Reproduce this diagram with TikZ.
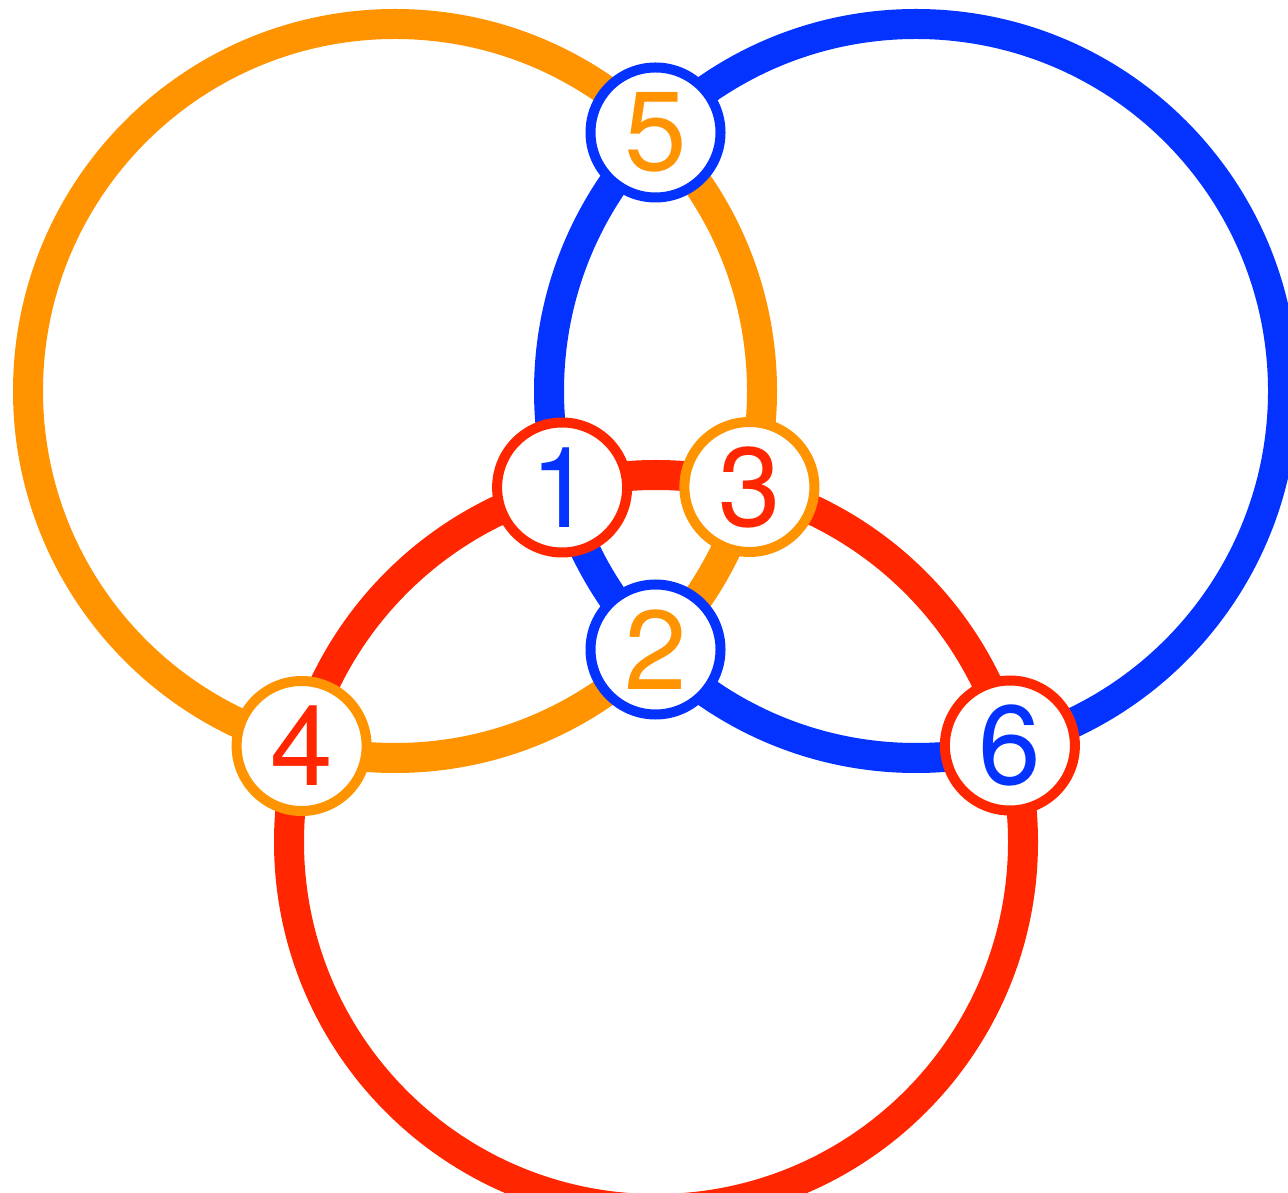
\documentclass[tikz,border=0pt]{standalone}
\usepackage{fontspec}
\setmainfont{TeX Gyre Heros}
\usepackage{xcolor}
\usepackage{tikz}
\usetikzlibrary{positioning}
\definecolor{crorange}{HTML}{FF9300}
\definecolor{crblue}{HTML}{0433FF}
\definecolor{crred}{HTML}{FF2600}
\tikzset{
  ringline/.style={line width=3mm},
  ptnode/.style={circle,fill=white,line width=1mm,minimum size=13mm,inner sep=0pt,
    font=\fontsize{32}{38}\selectfont},
  ptorange/.style={ptnode,draw=crorange},
  ptblue/.style={ptnode,draw=crblue},
  ptred/.style={ptnode,draw=crred},
}

\begin{document}
\begin{tikzpicture}
  \useasboundingbox (0,0) rectangle (12.88,11.92);
  \clip (0,0) rectangle (12.88,11.92);
  \coordinate (cO) at (3.95,8.01);
  \coordinate (cB) at (9.16,8.01);
  \coordinate (cR) at (6.56,3.50);
  \draw[ringline,crorange] (cO) circle (3.67);
  \draw[ringline,crblue] (cB) circle (3.67);
  \draw[ringline,crred] (cR) circle (3.67);
  \node[ptblue,text=crorange] (n5) at (6.555,10.595) {5};
  \node[ptred,text=crblue] (n1) at (5.621,7.045) {1};
  \node[ptorange,text=crred] (n3) at (7.494,7.050) {3};
  \node[ptblue,text=crorange] (n2) at (6.555,5.425) {2};
  \node[ptorange,text=crred] (n4) at (3.016,4.460) {4};
  \node[ptred,text=crblue] (n6) at (10.099,4.465) {6};
\end{tikzpicture}
\end{document}
